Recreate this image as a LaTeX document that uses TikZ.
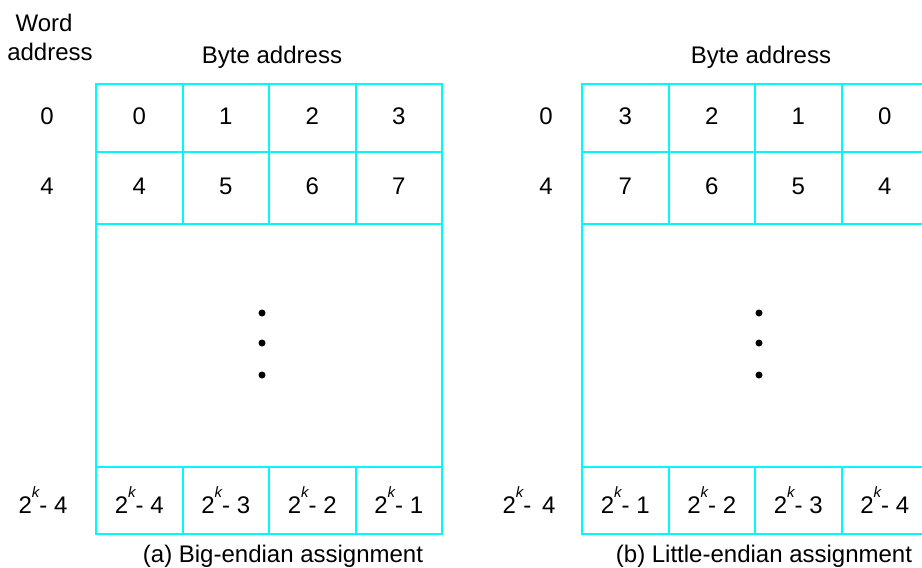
\documentclass[tikz,border=0pt]{standalone}
\usepackage{fontspec}
\setmainfont{Liberation Sans}
\definecolor{gridcyan}{RGB}{0,250,250}
% 2^k - n with a small italic k sitting on top of the 2
\newcommand\twok[1]{2\raisebox{16pt}{\fontsize{15pt}{15pt}\selectfont\itshape k}- #1}
\tikzset{
  txt/.style={font=\fontsize{24pt}{28pt}\selectfont, inner sep=0pt},
  cell/.style={txt, draw=gridcyan, line width=2pt, rectangle,
               minimum width=86.5pt, text height=12pt, text depth=0pt},
  lastcell/.style={cell, minimum height=67pt, text height=25pt},
  gap/.style={draw=gridcyan, line width=2pt, rectangle, inner sep=0pt,
              minimum width=346pt, minimum height=243pt},
  lbl/.style={txt, anchor=base},
  dot/.style={circle, fill=black, inner sep=0pt, minimum size=7pt}
}
\begin{document}
\begin{tikzpicture}[x=1pt,y=-1pt]
\useasboundingbox (0,0) rectangle (922,568);
\clip (0,0) rectangle (922,568);

% ---- (a) big-endian ----
\node[gap] (agap) at (269,345.5) {};
\foreach \t [count=\i from 0] in {0,1,2,3}
  \node[cell, minimum height=68pt] (arowA\i) at ({96+86.5*(\i+0.5)},118) {\t};
\foreach \t [count=\i from 0] in {4,5,6,7}
  \node[cell, minimum height=72pt] (arowB\i) at ({96+86.5*(\i+0.5)},188) {\t};
\foreach \t [count=\i from 0] in {4,3,2,1}
  \node[lastcell] (arowC\i) at ({96+86.5*(\i+0.5)},500.5) {\twok{\t}};
\node[dot] (adot1) at (262,313) {};
\node[dot] (adot2) at (262,343) {};
\node[dot] (adot3) at (262,375) {};

\node[lbl] (wordA) at (44,31) {Word};
\node[lbl] (wordB) at (50,60) {address};
\node[lbl] (abyte) at (272,63) {Byte address};
\node[lbl] (aw0) at (47,124) {0};
\node[lbl] (aw4) at (47,194) {4};
\node[lbl] (awk) at (43,513) {\twok{4}};
\node[lbl] (acap) at (283,562) {(a) Big-endian assignment};

% ---- (b) little-endian ----
\node[gap] (bgap) at (755,345.5) {};
\foreach \t [count=\i from 0] in {3,2,1,0}
  \node[cell, minimum height=68pt] (browA\i) at ({582+86.5*(\i+0.5)},118) {\t};
\foreach \t [count=\i from 0] in {7,6,5,4}
  \node[cell, minimum height=72pt] (browB\i) at ({582+86.5*(\i+0.5)},188) {\t};
\foreach \t [count=\i from 0] in {1,2,3,4}
  \node[lastcell] (browC\i) at ({582+86.5*(\i+0.5)},500.5) {\twok{\t}};
\node[dot] (bdot1) at (759,313) {};
\node[dot] (bdot2) at (759,343) {};
\node[dot] (bdot3) at (759,375) {};

\node[lbl] (bbyte) at (761,63) {Byte address};
\node[lbl] (bw0) at (546,124) {0};
\node[lbl] (bw4) at (546,194) {4};
\node[lbl] (bwk) at (529,513) {2\raisebox{16pt}{\fontsize{15pt}{15pt}\selectfont\itshape k}- \,4};
\node[lbl] (bcap) at (764,562) {(b) Little-endian assignment};
\end{tikzpicture}
\end{document}
